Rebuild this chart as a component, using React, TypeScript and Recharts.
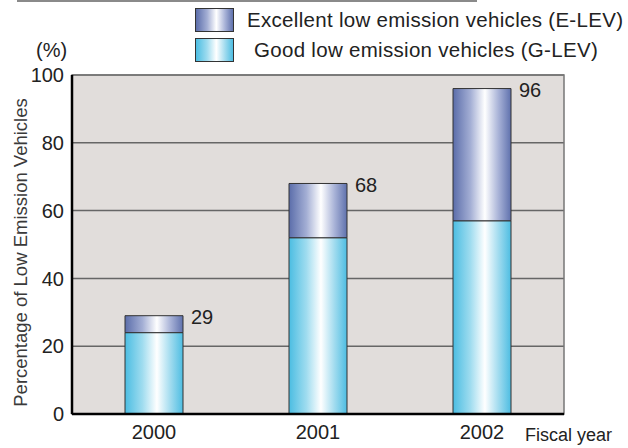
import React from "react";
import {
  BarChart,
  Bar,
  XAxis,
  YAxis,
  CartesianGrid,
  ReferenceArea,
  LabelList,
} from "recharts";

const years = ["2000", "2001", "2002"];
const gLev = [24, 52, 57];
const eLev = [5, 16, 39];
const totals = [29, 68, 96];
const yTicks = [0, 20, 40, 60, 80, 100];

const FONT = '"Liberation Sans", Arial, Helvetica, sans-serif';

const data = years.map((year, i) => ({
  year,
  g: gLev[i],
  e: eLev[i],
  total: totals[i],
}));

const eGradient =
  "linear-gradient(to right, #5b6daa 0%, #a3aed4 30%, #ffffff 55%, #aab4d8 78%, #5f71ad 100%)";
const gGradient =
  "linear-gradient(to right, #4bbde2 0%, #9fdcef 30%, #ffffff 55%, #a3dcef 78%, #4dbde2 100%)";

function Swatch({ bg, top }: { bg: string; top: number }) {
  return (
    <div
      style={{
        position: "absolute",
        left: 195,
        top,
        width: 37,
        height: 22,
        background: bg,
        border: "1px solid #333",
      }}
    />
  );
}

function TotalLabel(props: any) {
  const { x, y, width, index } = props;
  return (
    <text
      x={x + width + 8}
      y={y + 3}
      dominantBaseline="middle"
      fontSize={20}
      fill="#222"
      fontFamily={FONT}
    >
      {totals[index]}
    </text>
  );
}

export default function App() {
  return (
    <div
      style={{
        position: "absolute",
        left: 0,
        top: 0,
        width: 628,
        height: 448,
        background: "#fff",
        fontFamily: FONT,
        color: "#222",
      }}
    >
      <div
        style={{
          position: "absolute",
          left: 17,
          top: 0,
          width: 460,
          height: 2,
          background: "#8a8a8a",
        }}
      />
      <Swatch bg={eGradient} top={8} />
      <Swatch bg={gGradient} top={38} />
      <div
        style={{
          position: "absolute",
          left: 247,
          top: 8,
          fontSize: 20.5,
          lineHeight: "24px",
          letterSpacing: 0.3,
        }}
      >
        Excellent low emission vehicles (E-LEV)
      </div>
      <div
        style={{
          position: "absolute",
          left: 254,
          top: 38,
          fontSize: 20.5,
          lineHeight: "24px",
          letterSpacing: 0.3,
        }}
      >
        Good low emission vehicles (G-LEV)
      </div>
      <div
        style={{
          position: "absolute",
          left: 36,
          top: 38,
          fontSize: 20,
          lineHeight: "24px",
        }}
      >
        (%)
      </div>

      <BarChart
        width={628}
        height={448}
        data={data}
        margin={{ top: 75, right: 64, bottom: 0, left: 0 }}
        barCategoryGap={53}
      >
        <defs>
          <linearGradient id="eGrad" x1="0" y1="0" x2="1" y2="0">
            <stop offset="0%" stopColor="#5b6daa" />
            <stop offset="30%" stopColor="#a3aed4" />
            <stop offset="55%" stopColor="#ffffff" />
            <stop offset="78%" stopColor="#aab4d8" />
            <stop offset="100%" stopColor="#5f71ad" />
          </linearGradient>
          <linearGradient id="gGrad" x1="0" y1="0" x2="1" y2="0">
            <stop offset="0%" stopColor="#4bbde2" />
            <stop offset="30%" stopColor="#9fdcef" />
            <stop offset="55%" stopColor="#ffffff" />
            <stop offset="78%" stopColor="#a3dcef" />
            <stop offset="100%" stopColor="#4dbde2" />
          </linearGradient>
        </defs>
        <CartesianGrid
          vertical={false}
          fill="#e1dddb"
          fillOpacity={1}
          stroke="#666"
          strokeWidth={1.5}
        />
        <ReferenceArea
          y1={0}
          y2={100}
          fill="none"
          stroke="#777"
          strokeWidth={1.5}
          ifOverflow="visible"
        />
        <XAxis
          dataKey="year"
          height={34}
          axisLine={{ stroke: "#000", strokeWidth: 2.5 }}
          tickLine={false}
          tick={{ fill: "#222", fontSize: 20, fontFamily: FONT }}
          tickMargin={5}
          label={{
            value: "Fiscal year",
            position: "right",
            offset: -39,
            dy: 4,
            fontSize: 18,
            fill: "#222",
            fontFamily: FONT,
          }}
        />
        <YAxis
          width={72}
          domain={[0, 100]}
          ticks={yTicks}
          axisLine={{ stroke: "#000", strokeWidth: 2.5 }}
          tickLine={false}
          tickMargin={2}
          tick={{ fill: "#222", fontSize: 20, fontFamily: FONT }}
          label={{
            value: "Percentage of Low Emission Vehicles",
            angle: -90,
            position: "insideLeft",
            offset: 20,
            dy: 8,
            fontSize: 18.5,
            fill: "#3a3a3a",
            fontFamily: FONT,
            style: { textAnchor: "middle" },
          }}
        />
        <Bar
          dataKey="g"
          stackId="a"
          fill="url(#gGrad)"
          stroke="#333"
          strokeWidth={1}
          isAnimationActive={false}
        />
        <Bar
          dataKey="e"
          stackId="a"
          fill="url(#eGrad)"
          stroke="#333"
          strokeWidth={1}
          isAnimationActive={false}
        >
          <LabelList dataKey="total" content={TotalLabel} />
        </Bar>
      </BarChart>
    </div>
  );
}
